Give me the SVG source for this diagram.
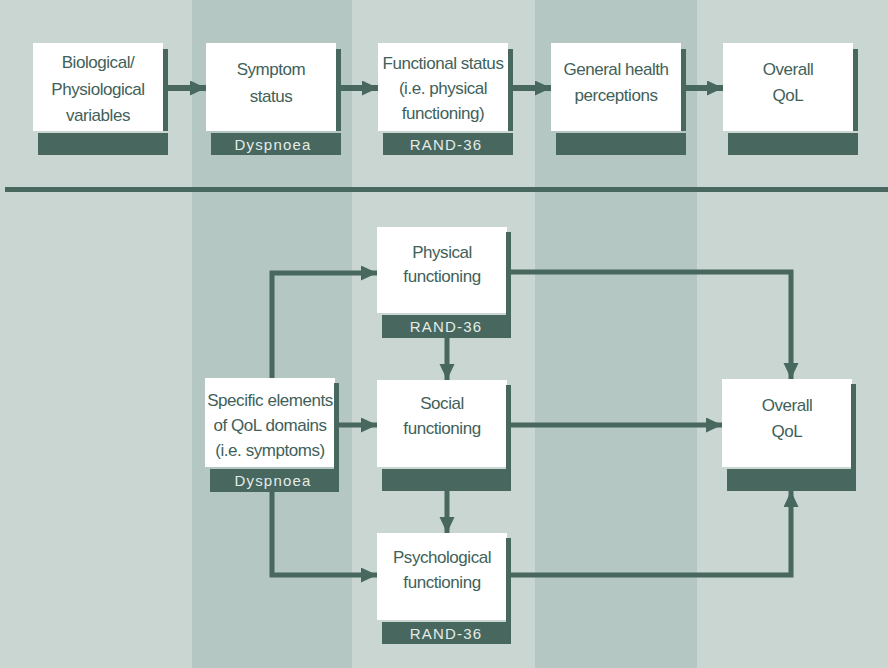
<svg xmlns="http://www.w3.org/2000/svg" width="888" height="668" viewBox="0 0 888 668">
<style>
.bg{fill:#c9d6d1}
.band{fill:#b4c7c2}
.white{fill:#ffffff}
.dark{fill:#47675f}
.t{font-family:"Liberation Sans",Arial,sans-serif;font-size:17px;letter-spacing:-0.45px;fill:#3f615a;text-anchor:middle}
.bt{font-family:"Liberation Sans",Arial,sans-serif;font-size:15px;fill:#e4ece8;text-anchor:middle;letter-spacing:1.2px}
.c{fill:none;stroke:#47675f;stroke-width:5}
.ct{fill:none;stroke:#47675f;stroke-width:6}
</style>
<defs>
<marker id="ah" markerUnits="userSpaceOnUse" markerWidth="17" markerHeight="16" refX="16" refY="7.5" orient="auto">
<path d="M0,0 L16,7.5 L0,15 z" fill="#47675f"/>
</marker>
</defs>
<rect class="bg" x="0" y="0" width="888" height="668"/>
<rect class="band" x="192" y="0" width="160" height="668"/>
<rect class="band" x="535" y="0" width="162" height="668"/>
<rect class="dark" x="5" y="187" width="883" height="5"/>

<g id="connectors">
<line class="ct" x1="168" y1="88" x2="206" y2="88" marker-end="url(#ah)"/>
<line class="ct" x1="340" y1="88" x2="378" y2="88" marker-end="url(#ah)"/>
<line class="ct" x1="513" y1="88" x2="551" y2="88" marker-end="url(#ah)"/>
<line class="ct" x1="685" y1="88" x2="723" y2="88" marker-end="url(#ah)"/>
<path class="c" d="M272,378 L272,273 L377,273" marker-end="url(#ah)"/>
<path class="c" d="M511,272 L791,272 L791,379" marker-end="url(#ah)"/>
<line class="c" x1="447" y1="338" x2="447" y2="380" marker-end="url(#ah)"/>
<line class="c" x1="337" y1="425" x2="377" y2="425" marker-end="url(#ah)"/>
<line class="c" x1="511" y1="425" x2="722" y2="425" marker-end="url(#ah)"/>
<line class="c" x1="447" y1="491" x2="447" y2="533" marker-end="url(#ah)"/>
<path class="c" d="M272,492 L272,575 L377,575" marker-end="url(#ah)"/>
<path class="c" d="M511,575 L791,575 L791,491" marker-end="url(#ah)"/>
</g>

<g id="biological">
<rect class="white" x="33" y="43" width="130" height="88"/>
<rect class="dark" x="163" y="49" width="5" height="82"/>
<rect class="dark" x="38" y="133" width="130" height="22"/>
<text class="t" x="98" y="68">Biological/</text>
<text class="t" x="98" y="95">Physiological</text>
<text class="t" x="98" y="121">variables</text>
</g>

<g id="symptom">
<rect class="white" x="206" y="43" width="130" height="88"/>
<rect class="dark" x="336" y="49" width="5" height="82"/>
<rect class="dark" x="211" y="133" width="130" height="22"/>
<text class="t" x="271" y="75">Symptom</text>
<text class="t" x="271" y="102">status</text>
<text class="bt" x="273" y="150">Dyspnoea</text>
</g>

<g id="functional">
<rect class="white" x="378" y="43" width="130" height="88"/>
<rect class="dark" x="508" y="49" width="5" height="82"/>
<rect class="dark" x="383" y="133" width="130" height="22"/>
<text class="t" x="443" y="69">Functional status</text>
<text class="t" x="443" y="94">(i.e. physical</text>
<text class="t" x="443" y="119">functioning)</text>
<text class="bt" x="446" y="150">RAND-36</text>
</g>

<g id="general">
<rect class="white" x="551" y="43" width="130" height="88"/>
<rect class="dark" x="681" y="49" width="5" height="82"/>
<rect class="dark" x="556" y="133" width="130" height="22"/>
<text class="t" x="616" y="75">General health</text>
<text class="t" x="616" y="101">perceptions</text>
</g>

<g id="overall-top">
<rect class="white" x="723" y="43" width="130" height="88"/>
<rect class="dark" x="853" y="49" width="5" height="82"/>
<rect class="dark" x="728" y="133" width="130" height="22"/>
<text class="t" x="788" y="75">Overall</text>
<text class="t" x="788" y="101">QoL</text>
</g>

<g id="physical">
<rect class="white" x="377" y="227" width="130" height="86"/>
<rect class="dark" x="506" y="232" width="5" height="83"/>
<rect class="dark" x="382" y="315" width="129" height="23"/>
<text class="t" x="442" y="258">Physical</text>
<text class="t" x="442" y="282">functioning</text>
<text class="bt" x="446" y="332">RAND-36</text>
</g>

<g id="specific">
<rect class="white" x="205" y="378" width="130" height="89"/>
<rect class="dark" x="334" y="383" width="5" height="86"/>
<rect class="dark" x="210" y="469" width="129" height="23"/>
<text class="t" x="270" y="406">Specific elements</text>
<text class="t" x="270" y="431">of QoL domains</text>
<text class="t" x="270" y="456">(i.e. symptoms)</text>
<text class="bt" x="273" y="486">Dyspnoea</text>
</g>

<g id="social">
<rect class="white" x="377" y="380" width="130" height="87"/>
<rect class="dark" x="506" y="385" width="5" height="84"/>
<rect class="dark" x="382" y="469" width="129" height="22"/>
<text class="t" x="442" y="409">Social</text>
<text class="t" x="442" y="434">functioning</text>
</g>

<g id="psychological">
<rect class="white" x="377" y="533" width="130" height="87"/>
<rect class="dark" x="506" y="538" width="5" height="84"/>
<rect class="dark" x="382" y="622" width="129" height="22"/>
<text class="t" x="442" y="563">Psychological</text>
<text class="t" x="442" y="588">functioning</text>
<text class="bt" x="446" y="639">RAND-36</text>
</g>

<g id="overall-bottom">
<rect class="white" x="722" y="379" width="130" height="88"/>
<rect class="dark" x="851" y="384" width="5" height="85"/>
<rect class="dark" x="727" y="469" width="129" height="22"/>
<text class="t" x="787" y="411">Overall</text>
<text class="t" x="787" y="437">QoL</text>
</g>
</svg>
